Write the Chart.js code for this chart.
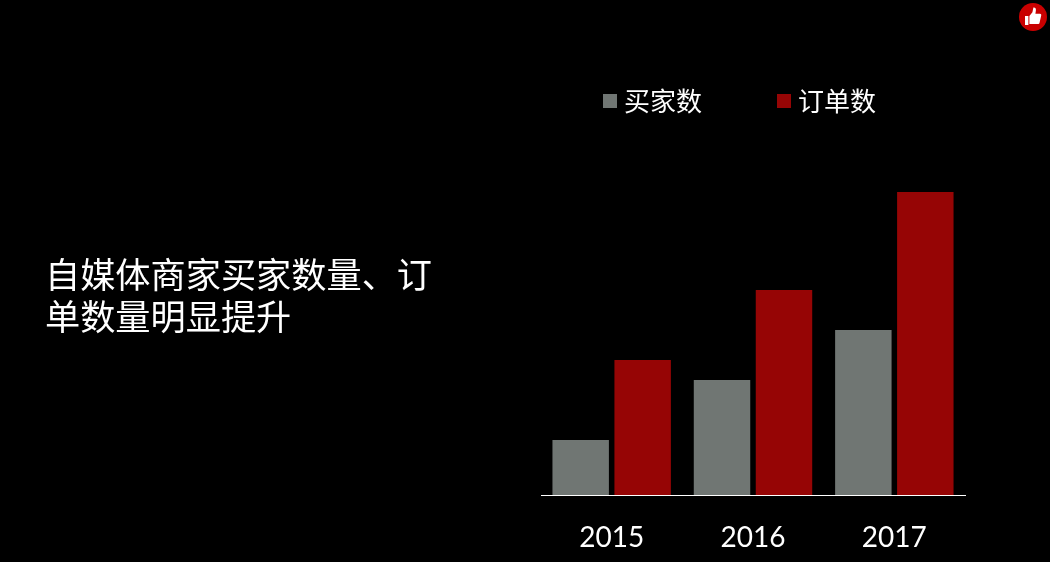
<!DOCTYPE html>
<html lang="zh">
<head>
<meta charset="utf-8">
<title>自媒体商家买家数量、订单数量明显提升</title>
<script src="https://cdn.jsdelivr.net/npm/chart.js@4"></script>
<style>
    html, body { margin: 0; background: #000; }
    body { position: relative; width: 1050px; height: 562px; overflow: hidden; }
    canvas { position: absolute; left: 0; top: 0; }
    .headline {
        position: absolute; left: 45px; top: 252px; width: 392px;
        color: #fff; font: 35.2px/42px "Noto Sans CJK SC", sans-serif;
    }
    .legend {
        position: absolute; left: 603px; top: 81px; display: flex; gap: 74px;
        color: #fff; font: 26px/38px "Noto Sans CJK SC", sans-serif;
    }
    .legend div { display: flex; align-items: center; }
    .legend i { width: 14px; height: 14px; margin: 2px 7px 0 0; }
    .thumb { position: absolute; left: 1019px; top: 3px; }
</style>
</head>
<body>
<canvas id="barchart1" width="1050" height="562"></canvas>
<div class="headline">自媒体商家买家数量、订单数量明显提升</div>
<div class="legend" id="legend"></div>
<svg class="thumb" width="28" height="28" viewBox="0 0 28 28">
    <circle cx="14" cy="14" r="14" fill="#c90000"/>
    <path d="M6 13h3.4v9H6z M10.4 13l3-3.7 1-4.8c1.7-.3 2.8 1 2.5 2.9l-.5 3.3h4.6c1 0 1.4 .9 1.2 1.7l-1.7 7.5c-.2.8-.7 1.1-1.5 1.1h-8.6z" fill="#fff"/>
</svg>
<script>
const years = ['2015', '2016', '2017'];
const buyers = [55, 115, 165];
const orders = [135, 205, 303];

const c = document.getElementById('barchart1');
const chart = new Chart(c, {
    type: 'bar',
    data: {
        labels: years,
        datasets: [{
            label: '买家数',
            data: buyers,
            backgroundColor: '#707673'
        },
        {
            label: '订单数',
            data: orders,
            backgroundColor: '#960505'
        }]
    },
    options: {
        responsive: false,
        animation: false,
        categoryPercentage: 0.877,
        barPercentage: 0.911,
        layout: {
            padding: { top: 192, left: 541, right: 85, bottom: 0 }
        },
        scales: {
            x: {
                grid: { display: false },
                border: { color: '#fff', width: 1 },
                ticks: {
                    color: '#fff',
                    padding: 18,
                    font: { family: 'Lato', size: 28 }
                },
                afterFit(s) { s.height = 67; }
            },
            y: {
                display: false,
                beginAtZero: true,
                max: 303
            }
        },
        plugins: {
            tooltip: { enabled: false },
            legend: { display: false }
        }
    }
});

// legend built from the datasets
const legend = document.getElementById('legend');
chart.data.datasets.forEach(function (ds) {
    const item = document.createElement('div');
    const box = document.createElement('i');
    box.style.background = ds.backgroundColor;
    item.appendChild(box);
    item.appendChild(document.createTextNode(ds.label));
    legend.appendChild(item);
});
legend.style.gap = '75px';
</script>
</body>
</html>
